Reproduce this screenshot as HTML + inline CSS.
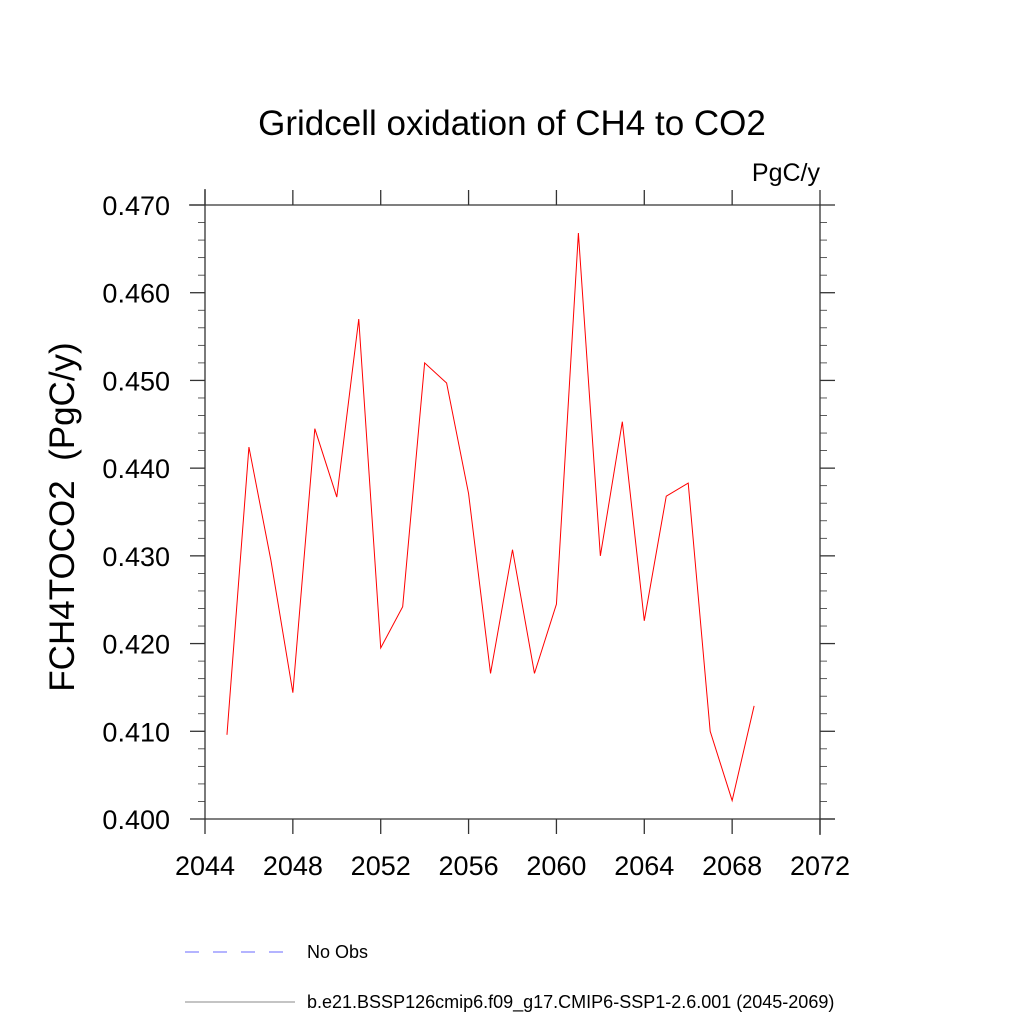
<!DOCTYPE html>
<html><head><meta charset="utf-8"><style>body{margin:0;background:#fff}svg{display:block}text{font-family:"Liberation Sans",sans-serif}</style></head>
<body>
<svg id="c" width="1024" height="1024">
<text x="512" y="135" font-size="35" text-anchor="middle">Gridcell oxidation of CH4 to CO2</text>
<text x="820" y="181" font-size="25" text-anchor="end">PgC/y</text>
<text transform="translate(74,517) rotate(-90)" font-size="35" text-anchor="middle" style="white-space:pre" xml:space="preserve">FCH4TOCO2  (PgC/y)</text>
<g id="axes"></g>
<g id="plot"></g>
<line x1="185" y1="952" x2="295" y2="952" stroke="#6a6aff" stroke-dasharray="14,14"/>
<text x="307" y="958" font-size="18">No Obs</text>
<line x1="185" y1="1002" x2="295" y2="1002" stroke="#888"/>
<text x="307" y="1008" font-size="18">b.e21.BSSP126cmip6.f09_g17.CMIP6-SSP1-2.6.001 (2045-2069)</text>
</svg>
<script>
const years=[2045,2046,2047,2048,2049,2050,2051,2052,2053,2054,2055,2056,2057,2058,2059,2060,2061,2062,2063,2064,2065,2066,2067,2068,2069];
const values=[0.4096,0.4424,0.4295,0.4144,0.4445,0.4367,0.4570,0.4195,0.4242,0.4520,0.4497,0.4371,0.4166,0.4307,0.4166,0.4245,0.4668,0.4300,0.4453,0.4226,0.4368,0.4383,0.4100,0.4021,0.4129];
const xTicks=[2044,2048,2052,2056,2060,2064,2068,2072];
const yTicks=[0.400,0.410,0.420,0.430,0.440,0.450,0.460,0.470];
const L=205,R=820,T=205,B=819;
const sx=v=>L+(v-2044)/28*(R-L);
const sy=v=>B-(v-0.4)/0.07*(B-T);
const NS="http://www.w3.org/2000/svg";
const ax=document.getElementById('axes'),pl=document.getElementById('plot');
function ln(p,x1,y1,x2,y2,c,w){const e=document.createElementNS(NS,'line');e.setAttribute('x1',x1);e.setAttribute('y1',y1);e.setAttribute('x2',x2);e.setAttribute('y2',y2);e.setAttribute('stroke',c);e.setAttribute('stroke-width',w);p.appendChild(e);return e;}
function tx(p,x,y,s,a){const e=document.createElementNS(NS,'text');e.setAttribute('x',x);e.setAttribute('y',y);e.setAttribute('font-size',27);e.setAttribute('text-anchor',a);e.textContent=s;p.appendChild(e);return e;}
let f;
f=ln(ax,189,T,R,T,'#333',1.3);
f=ln(ax,L,189,L,B,'#333',1.3);
f=ln(ax,L,B,835,B,'#333',1.3);
f=ln(ax,R,T,R,835,'#333',1.3);
xTicks.forEach(v=>{const x=sx(v);ln(ax,x,B,x,B+15,'#333',1.3);ln(ax,x,T,x,T-15,'#333',1.3);});
for(let i=0;i<=35;i++){const v=0.4+i*0.002,y=sy(v),maj=(i%5==0),l=maj?15:7;
 ln(ax,L,y,L-l,y,'#333',maj?1.3:0.8);ln(ax,R,y,R+l,y,'#333',maj?1.3:0.8);}
xTicks.forEach(v=>{const e=tx(ax,sx(v),875,String(v),'middle');});
yTicks.forEach(v=>{const e=tx(ax,L-35,sy(v)+10,v.toFixed(3),'end');});
const pl2=document.createElementNS(NS,'polyline');
pl2.setAttribute('points',years.map((y,i)=>sx(y)+','+sy(values[i])).join(' '));
pl2.setAttribute('fill','none');pl2.setAttribute('stroke','#ff0000');pl2.setAttribute('stroke-width','1');


pl.appendChild(pl2);
</script>
</body></html>
